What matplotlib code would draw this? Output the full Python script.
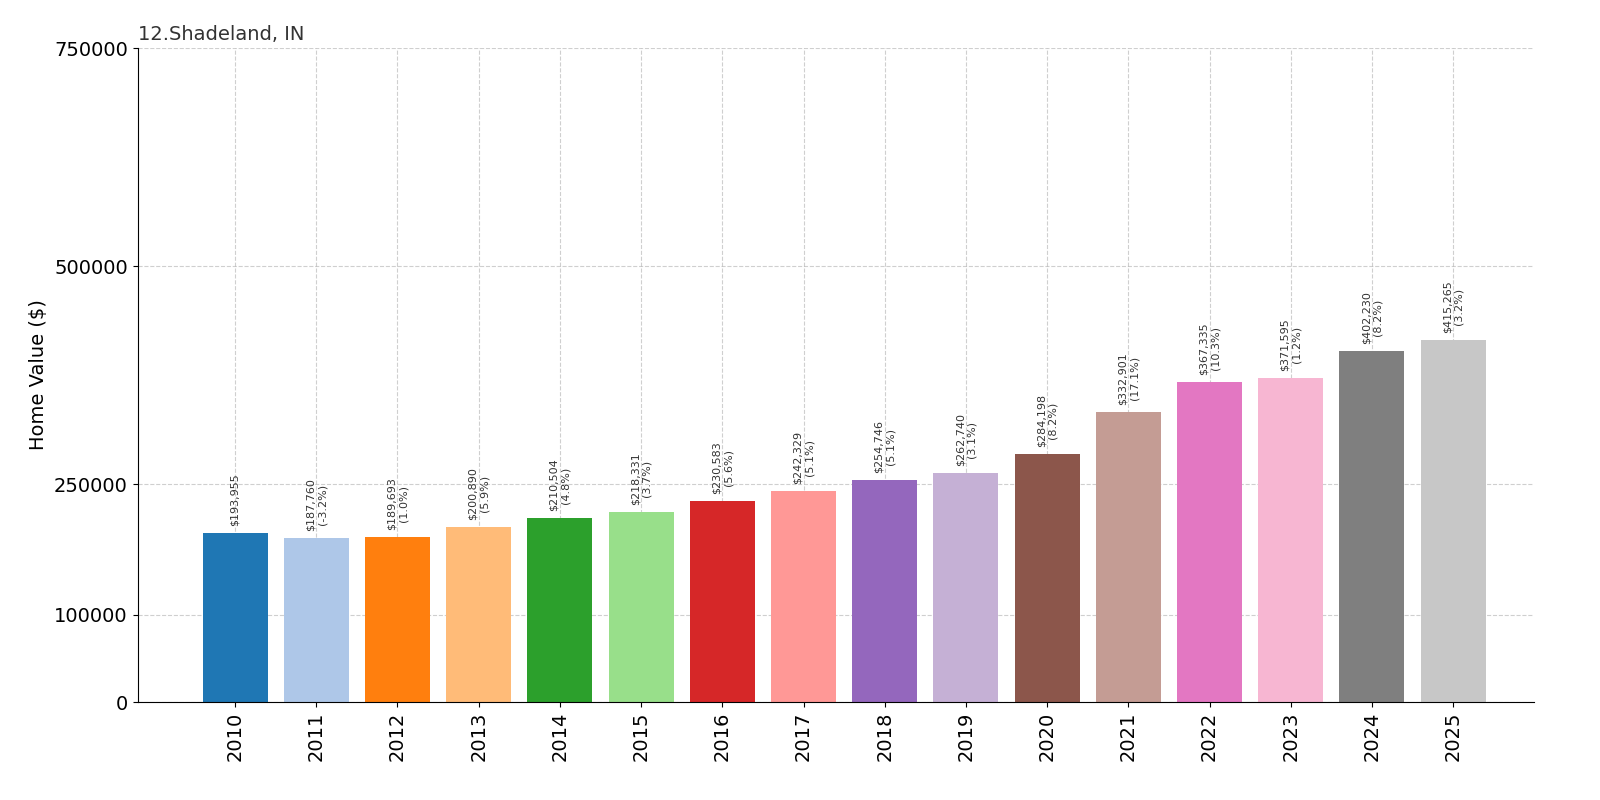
import numpy as np
import matplotlib
matplotlib.use("Agg")
import matplotlib.pyplot as plt

years = [str(y) for y in range(2010, 2026)]
values = [193955, 187760, 189693, 200890, 210504, 218331, 230583, 242329,
          254746, 262740, 284198, 332901, 367335, 371595, 402230, 415265]
changes = [None, "-3.2%", "1.0%", "5.9%", "4.8%", "3.7%", "5.6%", "5.1%",
           "5.1%", "3.1%", "8.2%", "17.1%", "10.3%", "1.2%", "8.2%", "3.2%"]
yticks = [0, 100000, 250000, 500000, 750000]

colors = plt.cm.tab20(np.arange(len(years)) % 20)

fig = plt.figure(figsize=(16, 8), dpi=100)
ax = fig.add_axes([0.086, 0.1225, 0.873, 0.8175])
x = np.arange(len(years))
ax.bar(x, values, width=0.8, color=colors, zorder=2)

for xi, v, c in zip(x, values, changes):
    txt = f"${v:,}" if c is None else f"${v:,}\n({c})"
    ax.text(xi, v + 8000, txt, rotation=90, ha="center", va="bottom",
            fontsize=8, color="#333333")

ax.set_xticks(x)
ax.set_xticklabels(years, rotation=90, fontsize=14)
ax.set_yticks(yticks)
ax.set_yticklabels([str(t) for t in yticks], fontsize=14)
ax.set_ylim(0, 750000)
ax.set_xlim(-1.2, 16.0)
ax.set_ylabel("Home Value ($)", fontsize=14)
ax.set_title("12.Shadeland, IN", loc="left", fontsize=14, color="#333333")
ax.grid(True, linestyle="--", alpha=0.6, zorder=0)
ax.spines["top"].set_visible(False)
ax.spines["right"].set_visible(False)

fig.savefig("out.png", dpi=100)
